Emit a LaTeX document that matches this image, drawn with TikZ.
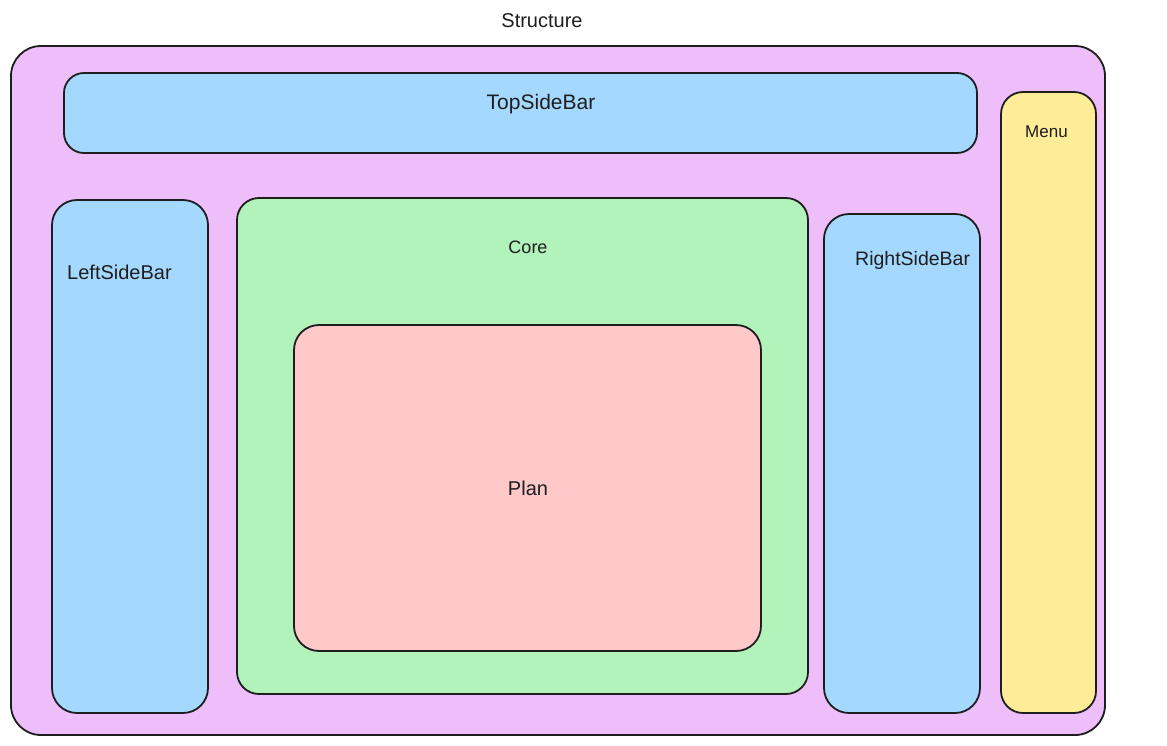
\documentclass[tikz,border=0pt]{standalone}
\usepackage{fontspec}
\setmainfont{Liberation Sans}
\definecolor{strk}{HTML}{1E1E1E}
\definecolor{cpurple}{HTML}{EEBEFA}
\definecolor{cblue}{HTML}{A5D8FF}
\definecolor{cgreen}{HTML}{B2F2BB}
\definecolor{cred}{HTML}{FFC9C9}
\definecolor{cyellow}{HTML}{FFEC99}
\newcommand{\fs}[1]{\fontsize{#1}{#1}\selectfont}
\begin{document}
\begin{tikzpicture}[x=1pt,y=-1pt,
  box/.style={draw=strk,line width=1.8pt,rounded corners=#1},
  box/.default=22pt,
  lbl/.style={text=strk,inner sep=0pt,font=\fs{18}}]
\useasboundingbox (0,0) rectangle (1167,745);
\fill[white] (0,0) rectangle (1167,745);
\node[lbl,font=\fs{20}] (title) at (542,21) {Structure};
\draw[box=30pt,fill=cpurple] (11,46) rectangle (1105,735);
\draw[box=20pt,fill=cblue] (64,73) rectangle (977,153);
\node[lbl,font=\fs{21}] (top) at (541,104) {TopSideBar};
\draw[box=22pt,fill=cyellow] (1001,92) rectangle (1096,713);
\node[lbl,font=\fs{17},anchor=west] (menu) at (1025,132) {Menu};
\draw[box=25pt,fill=cblue] (52,200) rectangle (208,713);
\node[lbl,font=\fs{20},anchor=west] (left) at (67,272) {LeftSideBar};
\draw[box=22pt,fill=cgreen] (237,198) rectangle (808,694);
\node[lbl] (core) at (528,247) {Core};
\draw[box=25pt,fill=cred] (294,325) rectangle (761,651);
\node[lbl,font=\fs{20}] (plan) at (528,488) {Plan};
\draw[box=25pt,fill=cblue] (824,214) rectangle (980,713);
\node[lbl,font=\fs{19.5},anchor=west] (right) at (855,260) {RightSideBar};
\end{tikzpicture}
\end{document}
